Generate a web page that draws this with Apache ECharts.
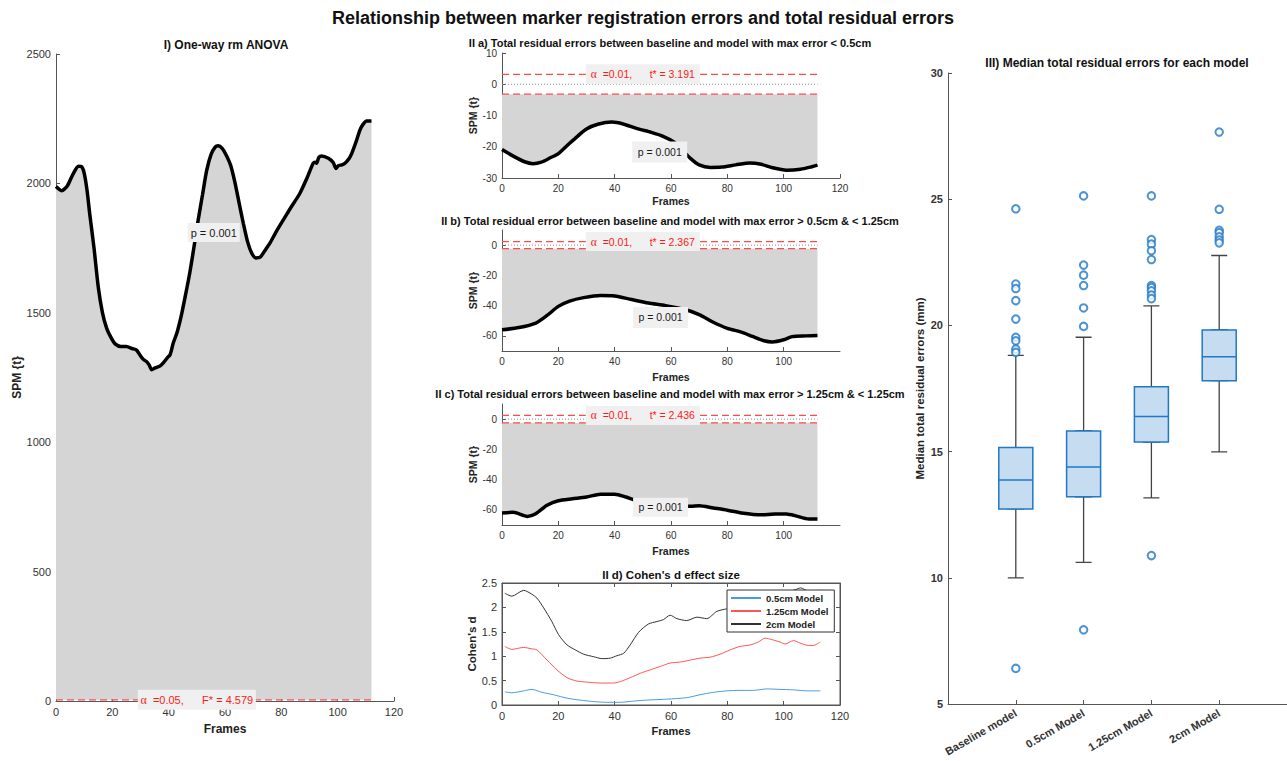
<!DOCTYPE html>
<html><head><meta charset="utf-8">
<script src="https://cdn.jsdelivr.net/npm/echarts@6/dist/echarts.min.js"></script>
<style>html,body{margin:0;padding:0;background:#fff}#c{width:1287px;height:761px}</style>
</head><body><div id="c"></div>
<script>
// ---------- DATA ----------
const anovaFrames = [0,2,4,6,8,9,10,11,12,13.5,15,16.5,18,19.5,21,23,25,27,28.6,29.8,31,32.2,33,34,35,37,38.5,39.5,40.5,41.6,43,44.5,46,47.5,49,50.5,52,53.5,55,56.5,57.6,59,60.5,62,63.5,65,66.5,68,69.5,71,72.5,74,76,78,80.7,83,86.6,89,91.3,92,92.5,93.3,94.3,96.7,98.4,99.4,100.2,101.5,102.6,104,105,106.5,107.9,109,110.3,112];
const anovaSPM = [1988,1972,1990,2035,2066,2065,2040,1975,1880,1750,1600,1500,1440,1405,1380,1370,1370,1362,1356,1337,1320,1311,1300,1280,1286,1295,1312,1326,1338,1382,1425,1490,1570,1655,1755,1860,1955,2050,2110,2140,2145,2135,2108,2070,2005,1925,1846,1775,1730,1712,1715,1738,1770,1810,1859,1900,1962,2018,2078,2082,2078,2100,2106,2097,2081,2058,2068,2072,2078,2095,2116,2160,2206,2228,2241,2241];

const iiaFrames = [0,4,8,11,14,17,20,24,27,30,34,39,43,48,53,57,61,63.5,67,70,74,78,83,88,92,96,101,106,110,112];
const iiaSPM = [-20.9,-23,-24.8,-25.4,-24.9,-23.6,-22.2,-18.9,-16.5,-14.3,-12.8,-12.1,-12.7,-14.2,-15.4,-16.6,-18.5,-20.6,-23.8,-25.8,-26.6,-26.5,-25.8,-25.2,-25.6,-26.7,-27.5,-27.2,-26.4,-25.9];

const iibFrames = [0,6,12,16,20,24,29,35,40,46,52,58,65,70,75,80,85,89,93,96,100,103,108,112];
const iibSPM = [-56,-54.5,-51.5,-46.5,-40.5,-37,-34.7,-33.3,-33.6,-36,-38.3,-40,-42.6,-46,-51,-55,-57.5,-60.4,-63.2,-64,-62.6,-60.5,-60,-59.7];

const iicFrames = [0,4,9,12,16,20,25,30,35,40,44,47,52,58,63,67,70,75,80,85,92,97,101,104,109,112];
const iicSPM = [-62,-61.6,-64.3,-62.5,-57,-54,-52.7,-51.5,-49.6,-49.6,-51.5,-53.5,-55.5,-56.8,-57.4,-57.6,-57.2,-58.7,-60.2,-62,-63.3,-62.7,-62.8,-63.8,-66,-66];

const thresholdFrames = [0, 112];
const thrI = 4.579, alphaI = '0.05';
const thrIIa = 3.191, thrIIb = 2.367, thrIIc = 2.436, alphaII = '0.01';
const pText = 'p = 0.001';

const cohenNames = ['0.5cm Model', '1.25cm Model', '2cm Model'];
const d05Frames = [1,3.5,7.7,10.6,14.2,18.3,23.1,27.8,32.5,37.2,42,46.7,51.4,58.5,65.6,70.3,75.1,79.8,84.5,89.3,94,98.7,103.5,108.2,113];
const d05 = [0.27,0.25,0.29,0.32,0.26,0.21,0.14,0.10,0.07,0.055,0.055,0.08,0.10,0.12,0.15,0.21,0.26,0.29,0.30,0.30,0.33,0.32,0.31,0.29,0.29];
const d125Frames = [1,3.5,7.7,10.6,12.4,16,19.5,23.1,26.6,30.1,34.9,39.6,42,45.5,49.1,52.6,56.2,59.7,63.3,66.8,70.3,73.9,77.4,81,84.5,88.1,91,93.4,95.8,98.7,100.5,103.5,105.8,108.8,110.5,113];
const d125 = [1.2,1.14,1.18,1.15,1.13,0.92,0.72,0.56,0.49,0.47,0.45,0.45,0.48,0.56,0.65,0.72,0.79,0.86,0.88,0.92,0.96,0.98,1.04,1.13,1.2,1.23,1.29,1.37,1.34,1.29,1.25,1.32,1.27,1.22,1.22,1.29];
const d2Frames = [1,3.5,7.7,10.6,12.4,14.8,17.7,20.1,23.1,26,29,32.5,35.5,38.4,40.8,43.2,45.5,48.5,52,55,57.3,59.7,62.1,65.6,69.2,72.7,76.3,79.8,84,88,92,96,100,104,106,109,113];
const d2 = [2.29,2.23,2.35,2.27,2.19,1.99,1.71,1.44,1.23,1.13,1.04,0.99,0.95,0.96,1.01,1.06,1.23,1.49,1.66,1.71,1.75,1.84,1.77,1.73,1.80,1.77,1.92,1.97,2.02,2.1,2.2,2.26,2.3,2.36,2.4,2.33,2.35];

const boxCategories = ['Baseline model', '0.5cm Model', '1.25cm Model', '2cm Model'];
// [min whisker, Q1, median, Q3, max whisker]
const boxStats = [
  [10.0, 12.73, 13.87, 15.16, 18.81],
  [10.61, 13.21, 14.39, 15.82, 19.53],
  [13.17, 15.38, 16.39, 17.57, 20.77],
  [14.99, 17.81, 18.76, 19.82, 22.77]
];
const outliers = [
  [24.62, 21.64, 21.46, 20.98, 20.25, 19.53, 19.39, 19.06, 18.93, 6.41],
  [25.13, 22.39, 21.99, 21.58, 20.69, 19.96, 7.94],
  [25.13, 23.40, 23.22, 22.96, 22.61, 21.58, 21.50, 21.37, 21.20, 21.06, 10.88],
  [27.66, 24.60, 23.77, 23.68, 23.51, 23.38, 23.27]
];
const frameTicksShort = [0, 20, 40, 60, 80, 100];
const spmTicksBC = [-60, -40, -20, 0];

// ---------- HELPERS ----------
const FONT = '"Liberation Sans", Arial, sans-serif';
const AX = '#555';
const FILL = '#d5d5d5';
const zip = (a, b) => a.map((v, i) => [v, b[i]]);

function valAxis(gridIndex, min, max, interval, o) {
  o = o || {};
  return {
    type: 'value', gridIndex, min, max, interval,
    position: o.position,
    show: o.show !== false,
    name: o.name || '', nameLocation: 'middle', nameGap: o.nameGap || 20,
    nameTextStyle: {fontWeight: 'bold', fontSize: o.nameSize || 11, color: '#222', fontFamily: FONT},
    axisLine: {show: true, onZero: false, lineStyle: {color: AX, width: 1}},
    axisTick: {show: o.ticks !== false, inside: true, length: 4, lineStyle: {color: AX}, customValues: o.tickValues},
    axisLabel: {show: o.labels !== false, color: '#333', fontSize: o.fontSize || 10, margin: o.margin || 5,
      fontWeight: o.bold ? 'bold' : 'normal', fontFamily: FONT,
      customValues: o.labelValues, formatter: o.formatter || (v => String(v)), rotate: o.rotate || 0},
    splitLine: {show: false}
  };
}

function curve(ax, frames, vals, origin) {
  return {type: 'line', xAxisIndex: ax, yAxisIndex: ax, data: zip(frames, vals), symbol: 'none',
    smooth: 0.25, lineStyle: {color: '#000', width: 3.5}, areaStyle: {color: FILL, opacity: 1, origin: origin},
    z: 2, silent: true};
}
function thrLine(ax, t) {
  return {type: 'line', xAxisIndex: ax, yAxisIndex: ax, data: thresholdFrames.map(f => [f, t]), symbol: 'none',
    lineStyle: {color: '#ff4a4a', width: 1.2, type: [7, 4]}, z: 3, silent: true};
}
function zeroLine(ax) {
  return {type: 'line', xAxisIndex: ax, yAxisIndex: ax, data: thresholdFrames.map(f => [f, 0]), symbol: 'none',
    lineStyle: {color: '#888', width: 1, type: [1, 2]}, z: 3, silent: true};
}
function boxLabel(ax, pos, text, size, w, h) {
  return {type: 'scatter', xAxisIndex: ax, yAxisIndex: ax, data: [pos], symbol: 'rect', symbolSize: [w, h],
    itemStyle: {color: '#f0f0f0', opacity: 1}, z: 10, silent: true,
    label: {show: true, position: 'inside', formatter: text,
      fontSize: size || 10.5, color: '#1a1a1a', fontFamily: FONT,
      rich: {a: {fontFamily: '"Liberation Serif", serif', fontSize: (size || 10.5) + 1, color: '#ff1a1a'},
             r: {fontFamily: FONT, fontSize: size || 10.5, color: '#ff1a1a'}}}};
}
const alphaText = (alpha, sym, t) => '{a|α}{r|  =' + alpha + ',      ' + sym + '* = ' + t + '}';
const titleStyle = (text, size) => ({text: text, font: 'bold ' + size + 'px ' + FONT, fill: '#111',
  align: 'center', verticalAlign: 'middle', textAlign: 'center', textVerticalAlign: 'middle'});

// ---------- OPTION ----------
const option = {
  animation: false,
  textStyle: {fontFamily: FONT},
  grid: [
    {left: 56, top: 54, width: 338, height: 647},
    {left: 502, top: 53, width: 338, height: 125},
    {left: 502, top: 230, width: 338, height: 121},
    {left: 502, top: 404, width: 338, height: 121},
    {left: 502, top: 583, width: 338, height: 122, show: true, borderColor: AX, borderWidth: 1},
    {left: 948, top: 73, width: 339, height: 631}
  ],
  xAxis: [
    valAxis(0, 0, 120, 20, {name: 'Frames', nameGap: 22, nameSize: 12, fontSize: 11}),
    valAxis(1, 0, 120, 20, {name: 'Frames', nameGap: 17, nameSize: 10.5}),
    valAxis(2, 0, 120, 20, {name: 'Frames', nameGap: 20, nameSize: 10.5, labelValues: frameTicksShort, tickValues: frameTicksShort}),
    valAxis(3, 0, 120, 20, {name: 'Frames', nameGap: 20, nameSize: 10.5, labelValues: frameTicksShort, tickValues: frameTicksShort}),
    valAxis(4, 0, 120, 20, {name: 'Frames', nameGap: 20, nameSize: 11, fontSize: 11}),
    valAxis(5, 0, 5, 1, {bold: true, fontSize: 11, rotate: 30, margin: 8, labelValues: [1, 2, 3, 4], tickValues: [1, 2, 3, 4],
      formatter: v => boxCategories[v - 1] || ''}),
    valAxis(5, 0, 5, 1, {show: false}),
    valAxis(4, 0, 120, 20, {position: 'top', labels: false})
  ],
  yAxis: [
    valAxis(0, 0, 2500, 500, {name: 'SPM {t}', nameGap: 32, nameSize: 12, fontSize: 11}),
    valAxis(1, -30, 10, 10, {name: 'SPM {t}', nameGap: 20, nameSize: 10.5}),
    valAxis(2, -70, 10, 10, {name: 'SPM {t}', nameGap: 22, nameSize: 10.5, labelValues: spmTicksBC, tickValues: spmTicksBC}),
    valAxis(3, -70, 10, 10, {name: 'SPM {t}', nameGap: 22, nameSize: 10.5, labelValues: spmTicksBC, tickValues: spmTicksBC}),
    valAxis(4, 0, 2.5, 0.5, {name: "Cohen's d", nameGap: 21, nameSize: 11.5, fontSize: 11}),
    valAxis(5, 5, 30, 5, {name: 'Median total residual errors (mm)', nameGap: 22, nameSize: 11.5, bold: true, fontSize: 11}),
    valAxis(4, 0, 2.5, 0.5, {position: 'right', labels: false})
  ],
  legend: {
    data: cohenNames, orient: 'vertical', left: 727, top: 590, itemWidth: 30, itemHeight: 2, itemGap: 3,
    icon: 'rect', textStyle: {fontSize: 9.5, fontWeight: 'bold', color: '#222', fontFamily: FONT},
    borderColor: '#333', borderWidth: 1, padding: [3, 6, 3, 4], backgroundColor: '#fff', z: 20
  },
  graphic: [
    {type: 'text', x: 643, y: 18, style: titleStyle('Relationship between marker registration errors and total residual errors', 18)},
    {type: 'text', x: 226, y: 45, style: titleStyle('I) One-way rm ANOVA', 12)},
    {type: 'text', x: 670, y: 43, style: titleStyle('II a) Total residual errors between baseline and model with max error < 0.5cm', 11)},
    {type: 'text', x: 670, y: 221, style: titleStyle('II b) Total residual error between baseline and model with max error > 0.5cm & < 1.25cm', 11)},
    {type: 'text', x: 670, y: 394, style: titleStyle('II c) Total residual errors between baseline and model with max error > 1.25cm & < 1.25cm', 11)},
    {type: 'text', x: 671, y: 575, style: titleStyle("II d) Cohen's d effect size", 11.5)},
    {type: 'text', x: 1117, y: 63, style: titleStyle('III) Median total residual errors for each model', 12)}
  ],
  series: [
    // Panel I
    curve(0, anovaFrames, anovaSPM, thrI),
    thrLine(0, thrI),
    boxLabel(0, [50, thrI], alphaText(alphaI, 'F', thrI), 11, 118, 20),
    boxLabel(0, [56, 1810], pText, 11, 52, 19),
    // Panel II a
    curve(1, iiaFrames, iiaSPM, -thrIIa),
    thrLine(1, thrIIa), thrLine(1, -thrIIa), zeroLine(1),
    boxLabel(1, [50, thrIIa], alphaText(alphaII, 't', thrIIa), 10.5, 114, 20),
    boxLabel(1, [56, -21.7], pText, 10.5, 55, 21),
    // Panel II b
    curve(2, iibFrames, iibSPM, -thrIIb),
    thrLine(2, thrIIb), thrLine(2, -thrIIb), zeroLine(2),
    boxLabel(2, [50, thrIIb], alphaText(alphaII, 't', thrIIb), 10.5, 114, 19),
    boxLabel(2, [56.3, -47.8], pText, 10.5, 55, 21),
    // Panel II c
    curve(3, iicFrames, iicSPM, -thrIIc),
    thrLine(3, thrIIc), thrLine(3, -thrIIc), zeroLine(3),
    boxLabel(3, [50, thrIIc], alphaText(alphaII, 't', thrIIc), 10.5, 114, 19),
    boxLabel(3, [56.3, -58.3], pText, 10.5, 55, 19),
    // Panel II d
    {type: 'line', name: cohenNames[0], xAxisIndex: 4, yAxisIndex: 4, data: zip(d05Frames, d05), symbol: 'none', smooth: 0.25, color: '#4a9ae0', lineStyle: {width: 1, color: '#4a9ae0'}, silent: true},
    {type: 'line', name: cohenNames[1], xAxisIndex: 4, yAxisIndex: 4, data: zip(d125Frames, d125), symbol: 'none', smooth: 0.25, color: '#ff5555', lineStyle: {width: 1, color: '#ff5555'}, silent: true},
    {type: 'line', name: cohenNames[2], xAxisIndex: 4, yAxisIndex: 4, data: zip(d2Frames, d2), symbol: 'none', smooth: 0.25, color: '#333', lineStyle: {width: 1, color: '#333'}, silent: true},
    // Panel III
    {type: 'boxplot', xAxisIndex: 5, yAxisIndex: 5, boxWidth: [16, 16], silent: true,
      data: boxStats.map((s, i) => [i + 1].concat(s)),
      itemStyle: {color: '#c6dcf1', borderColor: '#444', borderWidth: 1.3}, z: 2},
    {type: 'boxplot', xAxisIndex: 6, yAxisIndex: 5, boxWidth: [34, 34], silent: true,
      data: boxStats.map((s, i) => [i + 1, s[1], s[1], s[2], s[3], s[3]]),
      itemStyle: {color: '#c6dcf1', borderColor: '#1f78c8', borderWidth: 1.5}, z: 3},
    {type: 'scatter', xAxisIndex: 5, yAxisIndex: 5, symbol: 'emptyCircle', symbolSize: 7.5, silent: true,
      data: outliers.flatMap((arr, i) => arr.map(v => [i + 1, v])),
      itemStyle: {color: '#1f78c8', borderColor: '#1f78c8', borderWidth: 1.4}, z: 4}
  ]
};

const chart = echarts.init(document.getElementById('c'), null, {renderer: 'svg'});
chart.setOption(option);
</script></body></html>
